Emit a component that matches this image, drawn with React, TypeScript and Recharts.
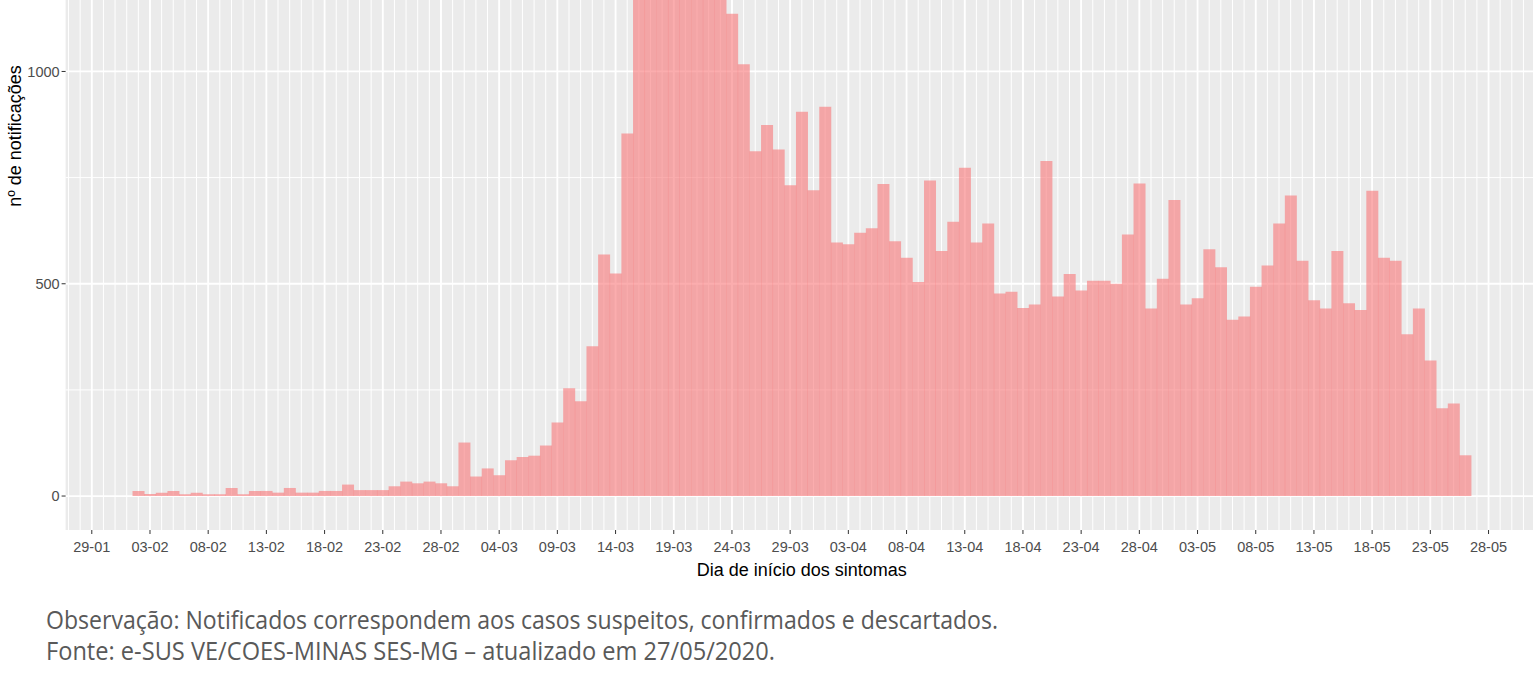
import { BarChart, Bar, XAxis, YAxis, CartesianGrid } from "recharts";

// dia 0 = 29-01; primeira barra em 02-02
const inicio = 4;

// notificações por dia de início dos sintomas (02-02 a 26-05)
// 16-03 a 23-03 passam do topo visível da figura: valores estimados
const notificacoes = [
  12, 5, 8, 12, 4, 8, 4, 4, 19, 4,
  12, 12, 8, 19, 8, 8, 12, 12, 27, 14,
  14, 14, 23, 34, 30, 34, 30, 23, 126, 46,
  65, 49, 84, 92, 95, 119, 173, 254, 223, 353,
  569, 524, 854, 1240, 1420, 1560, 1690, 1650, 1520, 1400,
  1260, 1136, 1017, 812, 874, 816, 732, 905, 720, 917,
  597, 593, 620, 631, 735, 600, 561, 504, 743, 577,
  646, 773, 597, 642, 477, 481, 443, 451, 789, 470,
  523, 484, 507, 507, 500, 616, 736, 442, 512, 697,
  451, 466, 581, 539, 415, 423, 493, 543, 642, 708,
  554, 461, 442, 577, 454, 438, 719, 561, 554, 381,
  442, 319, 207, 218, 96,
];

const xTicks = [0, 5, 10, 15, 20, 25, 30, 35, 40, 45, 50, 55, 60, 65, 70, 75, 80, 85, 90, 95, 100, 105, 110, 115, 120];
const xTickLabels = [
  "29-01", "03-02", "08-02", "13-02", "18-02", "23-02", "28-02", "04-03", "09-03",
  "14-03", "19-03", "24-03", "29-03", "03-04", "08-04", "13-04", "18-04", "23-04",
  "28-04", "03-05", "08-05", "13-05", "18-05", "23-05", "28-05",
];
const yTicks = [0, 500, 1000];
const yMajor = [0, 500, 1000, 1500];
const yMinor = [250, 750, 1250, 1750];
const dias = Array.from({ length: 127 }, (_, i) => i - 2);

const data = notificacoes.map((n, i) => ({ t: inicio + i, n }));

const tickStyle = { fill: "#4D4D4D", fontSize: 14.5, fontFamily: "'Liberation Sans', Arial, sans-serif" };

export default function App() {
  return (
    <div style={{ position: "fixed", top: 0, left: 0, width: 1533, height: 686, overflow: "hidden", background: "#fff" }}>
      <div style={{ position: "absolute", top: -258, left: 0 }}>
        <BarChart
          width={1538}
          height={848}
          data={data}
          margin={{ top: 0, right: 0, left: 0, bottom: 0 }}
          barCategoryGap={0}
          barGap={0}
          style={{ fontFamily: "'Liberation Sans', Arial, sans-serif" }}
        >
          <CartesianGrid
            fill="#EBEBEB"
            fillOpacity={1}
            stroke="#FFFFFF"
            strokeWidth={1}
            verticalValues={dias}
            horizontalValues={yMinor}
          />
          <CartesianGrid
            stroke="#FFFFFF"
            strokeWidth={1.8}
            verticalValues={xTicks}
            horizontalValues={yMajor}
          />
          <XAxis
            dataKey="t"
            type="number"
            domain={[-2.25, 124.25]}
            allowDataOverflow
            ticks={xTicks}
            interval={0}
            tickFormatter={(v) => xTickLabels[xTicks.indexOf(v)] ?? ""}
            axisLine={false}
            tickLine={{ stroke: "#333333" }}
            tickSize={4}
            tickMargin={8}
            tick={tickStyle}
            height={60}
            label={{
              value: "Dia de início dos sintomas",
              position: "insideBottom",
              offset: 14,
              fill: "#000",
              fontSize: 18,
            }}
          />
          <YAxis
            type="number"
            domain={[-80, 1776]}
            allowDataOverflow
            ticks={yTicks}
            interval={0}
            axisLine={false}
            tickLine={{ stroke: "#333333" }}
            tickSize={4}
            tickMargin={2}
            tick={tickStyle}
            width={65.6}
            label={{
              value: "nº de notificações",
              angle: -90,
              position: "insideLeft",
              offset: 15,
              fill: "#000",
              fontSize: 18,
              style: { textAnchor: "middle" },
            }}
          />
          <Bar dataKey="n" fill="#F87678" fillOpacity={0.6} isAnimationActive={false} />
        </BarChart>
      </div>
      <svg width={1533} height={686} style={{ position: "absolute", top: 0, left: 0, pointerEvents: "none" }}>
        <g fontFamily="'Open Sans', sans-serif" fontSize={25} fill="#595959">
          <text x={46} y={629} textLength={952} lengthAdjust="spacingAndGlyphs">
            Observação: Notificados correspondem aos casos suspeitos, confirmados e descartados.
          </text>
          <text x={46} y={660} textLength={729} lengthAdjust="spacingAndGlyphs">
            Fonte: e-SUS VE/COES-MINAS SES-MG – atualizado em 27/05/2020.
          </text>
        </g>
      </svg>
    </div>
  );
}
